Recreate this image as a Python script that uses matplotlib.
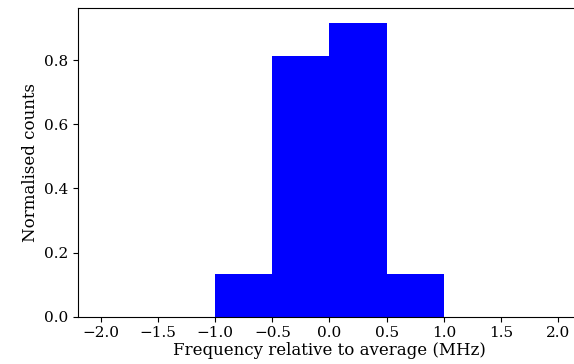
import matplotlib
matplotlib.use("Agg")
import matplotlib.pyplot as plt

# Histogram data (density normalised), bin width 0.5 MHz
bin_edges = [-1.0, -0.5, 0.0, 0.5, 1.0]
counts = [0.133, 0.813, 0.917, 0.133]
xticks = [-2.0, -1.5, -1.0, -0.5, 0.0, 0.5, 1.0, 1.5, 2.0]

plt.rcParams['font.family'] = 'DejaVu Serif'
plt.rcParams['mathtext.fontset'] = 'dejavuserif'

fig = plt.figure(figsize=(5.74, 3.64), dpi=100)
ax = fig.add_axes([0.136, 0.130, 0.876, 0.848])

widths = [b - a for a, b in zip(bin_edges[:-1], bin_edges[1:])]
ax.bar(bin_edges[:-1], counts, width=widths, align='edge', color='blue', linewidth=0)

ax.set_xlim(-2.2, 2.2)
ax.set_xticks(xticks)
ax.tick_params(labelsize=11)
ax.spines['right'].set_visible(False)
ax.set_xlabel("Frequency relative to average (MHz)", fontsize=12, labelpad=1)
ax.set_ylabel("Normalised counts", fontsize=12, labelpad=4)

fig.savefig("out.png", dpi=100)
